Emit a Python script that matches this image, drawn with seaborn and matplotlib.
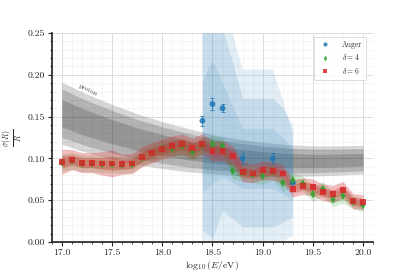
import numpy as np
import pandas as pd
import matplotlib
matplotlib.use("Agg")
import matplotlib.pyplot as plt
import seaborn as sns

# energy bins, log10(E/eV)
log_e = [17.0, 17.1, 17.2, 17.3, 17.4, 17.5, 17.6, 17.7, 17.8, 17.9,
         18.0, 18.1, 18.2, 18.3, 18.4, 18.5, 18.6, 18.7, 18.8, 18.9,
         19.0, 19.1, 19.2, 19.3, 19.4, 19.5, 19.6, 19.7, 19.8, 19.9, 20.0]

# delta = 6 reconstruction
res_d6 = [0.096, 0.0985, 0.095, 0.095, 0.094, 0.094, 0.093, 0.094, 0.102, 0.107,
          0.111, 0.115, 0.117, 0.112, 0.1176, 0.109, 0.109, 0.103, 0.084, 0.082,
          0.0857, 0.085, 0.082, 0.064, 0.067, 0.0654, 0.0594, 0.0578, 0.0626, 0.049, 0.0475]
err_d6 = [0.0075, 0.006, 0.006, 0.006, 0.007, 0.008, 0.006, 0.006, 0.006, 0.006,
          0.006, 0.006, 0.006, 0.006, 0.006, 0.006, 0.006, 0.006, 0.006, 0.0055,
          0.0055, 0.0055, 0.0055, 0.005, 0.005, 0.005, 0.005, 0.005, 0.005, 0.0045, 0.0045]

# delta = 4 reconstruction
res_d4 = [0.095, 0.097, 0.094, 0.094, 0.093, 0.093, 0.092, 0.093, 0.101, 0.106,
          0.112, 0.112, 0.115, 0.1077, 0.116, 0.117, 0.115, 0.0853, 0.083, 0.081,
          0.079, 0.0845, 0.071, 0.074, 0.070, 0.0574, 0.0638, 0.051, 0.0554, 0.048, 0.044]
err_d4 = [0.005, 0.005, 0.005, 0.005, 0.005, 0.005, 0.005, 0.005, 0.005, 0.005,
          0.005, 0.005, 0.005, 0.005, 0.005, 0.005, 0.005, 0.005, 0.005, 0.005,
          0.005, 0.005, 0.005, 0.0045, 0.0045, 0.0045, 0.0045, 0.0045, 0.0045, 0.004, 0.004]

# Auger measurements
log_e_auger = [18.4, 18.5, 18.6, 18.8, 19.1, 19.3]
res_auger = [0.145, 0.165, 0.160, 0.100, 0.100, 0.071]
err_auger = [0.006, 0.007, 0.005, 0.007, 0.006, 0.0]

# Auger uncertainty bands (inner, middle, outer)
log_e_band = [18.4, 18.5, 18.6, 18.7, 18.8, 18.9, 19.0, 19.1, 19.2, 19.3]
band1_lo = [0.060, 0.070, 0.078, 0.071, 0.064, 0.064, 0.064, 0.064, 0.058, 0.050]
band1_hi = [0.194, 0.217, 0.190, 0.163, 0.136, 0.136, 0.136, 0.136, 0.125, 0.110]
band2_lo = [0.014, 0.005, 0.038, 0.028, 0.018, 0.018, 0.018, 0.018, 0.024, 0.030]
band2_hi = [0.270, 0.280, 0.255, 0.215, 0.172, 0.172, 0.172, 0.172, 0.160, 0.140]
band3_lo = [-0.01, -0.02, 0.000, -0.01, -0.01, -0.01, -0.01, -0.01, 0.000, 0.008]
band3_hi = [0.300, 0.320, 0.300, 0.250, 0.206, 0.206, 0.206, 0.206, 0.170, 0.130]

# proton expectation
log_e_p = [17.0, 17.25, 17.5, 17.75, 18.0, 18.25, 18.5, 18.75, 19.0, 19.25, 19.5, 19.75, 20.0]
res_p = [0.154, 0.142, 0.132, 0.123, 0.116, 0.110, 0.105, 0.1015, 0.099, 0.0975, 0.097, 0.0975, 0.0985]
sig_p = [0.0165, 0.0155, 0.0145, 0.0135, 0.0125, 0.0115, 0.0105, 0.0097, 0.009, 0.0085, 0.008, 0.0078, 0.0076]

sns.set_theme(style="ticks")
plt.rcParams["font.family"] = ["serif"]
plt.rcParams["font.serif"] = ["cmr10", "DejaVu Serif"]
plt.rcParams["mathtext.fontset"] = "cm"
plt.rcParams["axes.formatter.use_mathtext"] = True

fig = plt.figure(figsize=(4.15, 2.77), dpi=100)
ax = fig.add_axes([0.125, 0.126, 0.774, 0.755])

blue, green, red = "#1f77b4", "#2ca02c", "#d62728"

# proton band
x = np.array(log_e_p)
c = np.array(res_p)
s = np.array(sig_p)
for k in [2.25, 1.75, 1.0]:
    ax.fill_between(x, c - k * s, c + k * s, color="black", alpha=0.16, lw=0)
ax.text(17.26, 0.182, "proton", fontsize=5, rotation=-26, ha="center", va="center", color="#444444")

# Auger bands
for lo, hi in [(band3_lo, band3_hi), (band2_lo, band2_hi), (band1_lo, band1_hi)]:
    ax.fill_between(log_e_band, lo, hi, color=blue, alpha=0.13, lw=0)

# simulated bands
for vals, errs, col, a in [(res_d4, err_d4, green, 0.18), (res_d6, err_d6, red, 0.3)]:
    v = np.array(vals)
    e = np.array(errs)
    for k in [2, 1]:
        ax.fill_between(log_e, v - k * e, v + k * e, color=col, alpha=a, lw=0)

ax.errorbar(log_e_auger, res_auger, yerr=err_auger, fmt="none", ecolor=blue, alpha=0.8,
            elinewidth=0.7, capsize=1.5, capthick=0.7)

df = pd.concat([
    pd.DataFrame({"x": log_e_auger, "y": res_auger, "s": "Auger"}),
    pd.DataFrame({"x": log_e, "y": res_d4, "s": r"$\delta = 4$"}),
    pd.DataFrame({"x": log_e, "y": res_d6, "s": r"$\delta = 6$"}),
])
sns.scatterplot(data=df, x="x", y="y", hue="s", style="s",
                palette=[blue, green, red], markers=["o", "d", "s"],
                s=18, alpha=0.85, linewidth=0.3, edgecolor="none", ax=ax, zorder=5)

ax.set_xlim(16.9, 20.1)
ax.set_ylim(0, 0.25)
ax.set_xticks([17.0, 17.5, 18.0, 18.5, 19.0, 19.5, 20.0])
ax.set_yticks([0.0, 0.05, 0.10, 0.15, 0.20, 0.25])
ax.xaxis.set_major_formatter(matplotlib.ticker.FormatStrFormatter("%.1f"))
ax.yaxis.set_major_formatter(matplotlib.ticker.FormatStrFormatter("%.2f"))
ax.xaxis.set_minor_locator(matplotlib.ticker.MultipleLocator(0.1))
ax.yaxis.set_minor_locator(matplotlib.ticker.MultipleLocator(0.01))
ax.grid(which="major", color="#d8d8d8", lw=0.6)
ax.grid(which="minor", color="#eeeeee", lw=0.4)
ax.set_axisbelow(True)
ax.tick_params(labelsize=7, length=3, width=0.8, pad=2)
ax.tick_params(which="minor", length=1.5, width=0.6)
sns.despine(ax=ax)
ax.set_xlabel(r"$\log_{10}(E/\mathrm{eV})$", fontsize=7, labelpad=1)
ax.set_ylabel(r"$\frac{\sigma(R)}{R}$", fontsize=8, labelpad=2)

leg = ax.legend(loc="upper right", fontsize=5.5, frameon=True, markerscale=0.7,
                handletextpad=1.2, borderpad=0.5, labelspacing=0.45,
                bbox_to_anchor=(0.99, 1.0))
leg.get_frame().set_edgecolor("#cccccc")
leg.get_frame().set_linewidth(0.6)

fig.savefig("out.png", dpi=100)
